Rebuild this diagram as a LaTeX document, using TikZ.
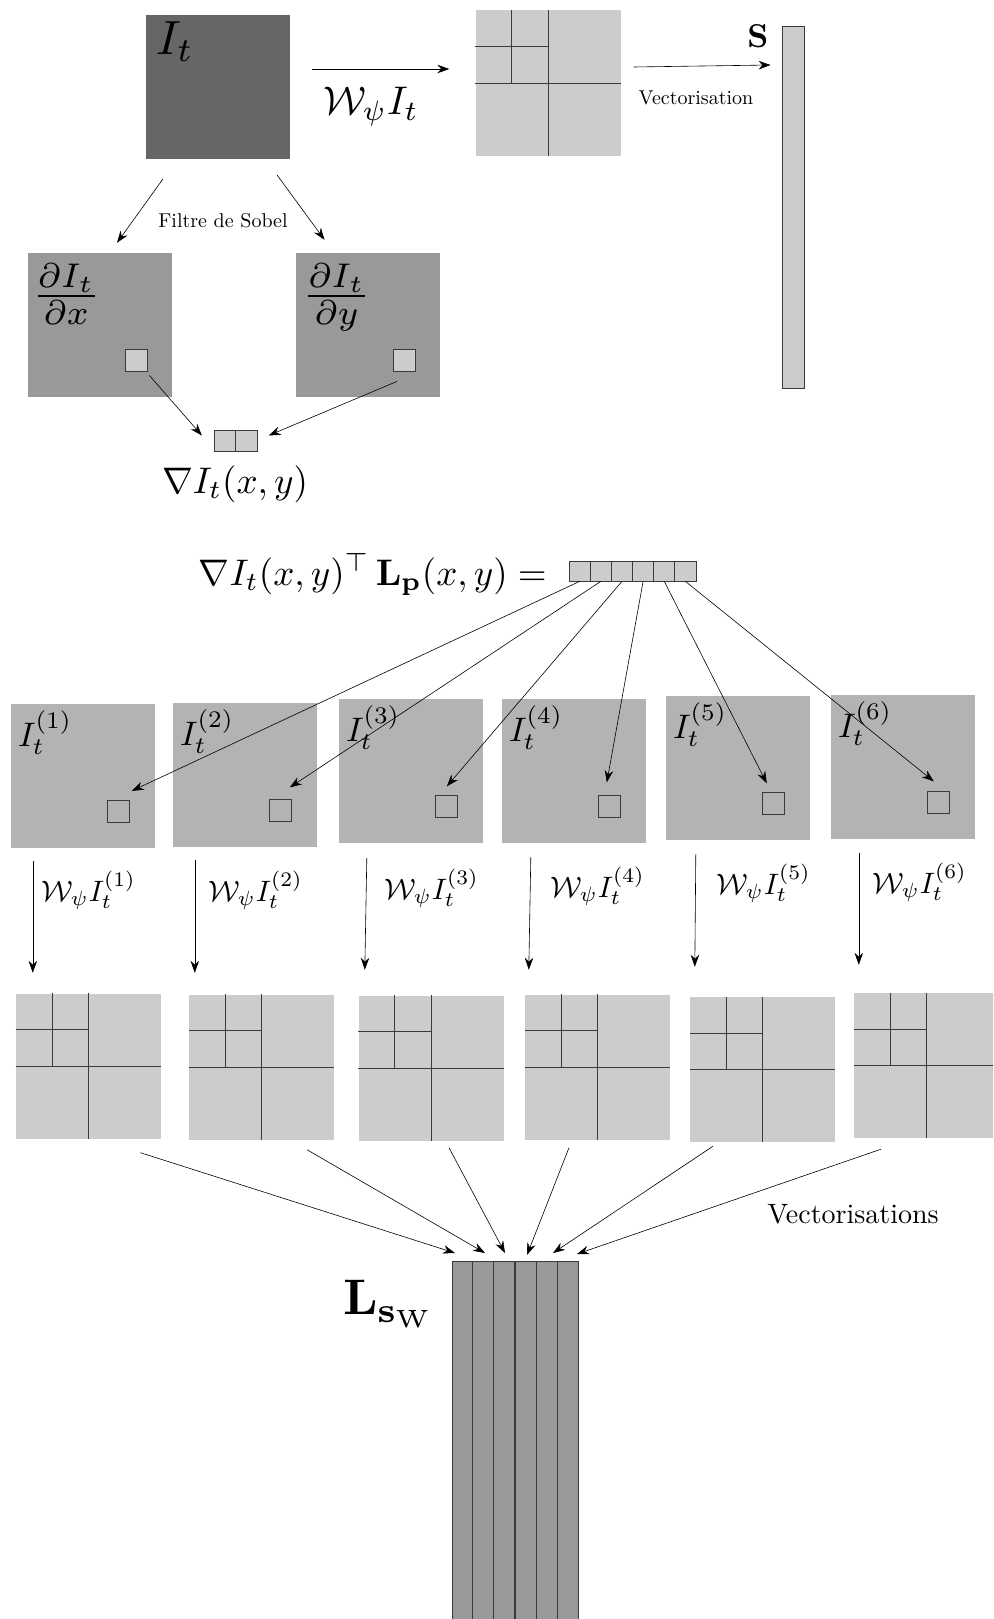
\RequirePackage{fix-cm}
\documentclass[tikz,border=0pt]{standalone}
\usepackage{amsmath}
\usetikzlibrary{calc,arrows.meta}
\definecolor{gA}{HTML}{666666}
\definecolor{gB}{HTML}{999999}
\definecolor{gC}{HTML}{CCCCCC}
\definecolor{gD}{HTML}{B3B3B3}
\definecolor{ln}{HTML}{3A3A3A}
\newcommand{\sz}[2]{\scalebox{#1}{#2}}
\newcommand{\wavebox}[3]{%
  \node[wbox] (#1) at (#2,#3) {};
  \draw[wline] (#1.west) -- (#1.east);
  \draw[wline] (#1.north) -- (#1.south);
  \draw[wline] ($(#1.north west)!.5!(#1.west)$) -- ($(#1.north)!.5!(#1.center)$);
  \draw[wline] ($(#1.north west)!.5!(#1.north)$) -- ($(#1.west)!.5!(#1.center)$);
}
\begin{document}
\begin{tikzpicture}[x=1pt,y=-1pt,
  img/.style={rectangle,inner sep=0pt,minimum size=144pt,draw=none},
  wbox/.style={rectangle,inner sep=0pt,minimum size=145pt,fill=gC,draw=none},
  wline/.style={draw=ln,line width=1pt},
  cell/.style={rectangle,inner sep=0pt,minimum width=21.2pt,minimum height=20pt,fill=gC,draw=ln,line width=0.8pt},
  sq/.style={rectangle,inner sep=0pt,minimum size=22pt,draw=ln,line width=0.8pt},
  arr/.style={-{Stealth[length=12pt,width=8.5pt]},line width=0.6pt},
  lbl/.style={inner sep=0pt}]
\clip (0,0) rectangle (993,1619);
% ---------- top row ----------
\node[img,fill=gA] (It) at (218,87) {};
\node[lbl,anchor=north west] (ItL) at ($(It.north west)+(10,7)$) {\sz{4.8}{$I_t$}};
\wavebox{TW}{548}{83}
\draw[arr] ($(It.east)+(22,-18)$) -- ($(TW.west)+(-26,-14)$);
\node[lbl] (WL) at (371,107) {\sz{4}{$\mathcal{W}_\psi I_t$}};
\node[rectangle,inner sep=0pt,minimum width=22pt,minimum height=362pt,fill=gC,draw=ln,line width=0.8pt] (Svec) at (793,207) {};
\draw[arr] ($(TW.east)+(13,-16)$) -- ($(Svec.west)+(-11,-142)$);
\node[lbl] (VL) at (696,98) {\sz{2}{Vectorisation}};
\node[lbl] (SL) at (758,36) {\sz{3.3}{$\mathbf{S}$}};
% ---------- Sobel ----------
\node[img,fill=gB] (Dx) at (100,325) {};
\node[img,fill=gB] (Dy) at (367.5,325) {};
\node[lbl] (SobL) at (223,221) {\sz{2}{Filtre de Sobel}};
\draw[arr] ($(It.south west)+(17,20)$) -- ($(Dx.north)+(17,-10)$);
\draw[arr] ($(It.south east)+(-13,16)$) -- ($(Dy.north)+(-43,-13)$);
\node[lbl,anchor=north west] (DxL) at ($(Dx.north west)+(4,11)$) {\sz{4.9}{$\frac{\partial I_t}{\partial x}$}};
\node[lbl,anchor=north west] (DyL) at ($(Dy.north west)+(7,11)$) {\sz{4.9}{$\frac{\partial I_t}{\partial y}$}};
\node[sq,fill=gC] (sx) at (136,360) {};
\node[sq,fill=gC] (sy) at (404,360) {};
\node[cell,minimum width=21.5pt,minimum height=21pt] (g1) at (225,440.5) {};
\node[cell,minimum width=21.5pt,minimum height=21pt] (g2) at (246.5,440.5) {};
\draw[arr] ($(sx.south east)+(2,4)$) -- ($(g1.west)+(-12,-5)$);
\draw[arr] ($(sy.south)+(-7,10)$) -- ($(g2.east)+(11,-5)$);
\node[lbl] (GL) at (235,484) {\sz{3.7}{$\nabla I_t(x,y)$}};
% ---------- equation ----------
\node[lbl,anchor=east] (EqL) at (547,575) {\sz{3.7}{$\nabla I_t(x,y)^{\top}\,\mathbf{L}_{\mathbf{p}}(x,y) =$}};
\foreach \k in {1,...,6} \node[cell] (v\k) at ({569+21.17*(\k-0.5)},571) {};
% ---------- six images ----------
\foreach \k/\x/\y in {1/83/775.5, 2/245/775, 3/411/771, 4/574/771, 5/738/768, 6/903/767} {
  \node[img,fill=gD] (B\k) at (\x,\y) {};
  \node[sq] (q\k) at ($(B\k.north west)+(108,108)$) {};
  \node[lbl,anchor=north west] (BL\k) at ($(B\k.north west)+(7,7)$) {\sz{3.4}{$I_t^{(\k)}$}};
}
\foreach \k/\dx/\dy in {1/13/-9, 2/9/-12, 3/0/-9, 4/-3/-13, 5/-7/-9, 6/-5/-10}
  \draw[arr] (v\k.south) -- ($(q\k.north)+(\dx,\dy)$);
% ---------- wavelet boxes ----------
\wavebox{W1}{88.5}{1066}
\wavebox{W2}{261.5}{1067}
\wavebox{W3}{431}{1068}
\wavebox{W4}{597.5}{1067}
\wavebox{W5}{762.5}{1069.5}
\wavebox{W6}{926.5}{1065.5}
\foreach \k/\sx/\sy/\ex/\ey/\lx/\ly in {1/22/13.5/17/-20.5/78/42.5, 2/22/13/6/-21.5/83/43, 3/28/15/6.5/-25.5/93/45, 4/29/14/4/-24.5/96/43, 5/30/14/5/-30/98/43, 6/28/14/5/-28/89/43} {
  \draw[arr] ($(B\k.south west)+(\sx,\sy)$) -- ($(W\k.north west)+(\ex,\ey)$);
  \node[lbl] (WL\k) at ($(B\k.south west)+(\lx,\ly)$) {\sz{2.95}{$\mathcal{W}_\psi I_t^{(\k)}$}};
}
% ---------- L_sW ----------
\node[rectangle,inner sep=0pt,minimum width=126pt,minimum height=420pt,anchor=north,fill=gB,draw=ln,line width=1pt] (Col) at (515,1261) {};
\foreach \i in {1,...,5}
  \draw[ln,line width=1.2pt] ($(Col.north west)!\i/6!(Col.north east)$) -- ($(Col.south west)!\i/6!(Col.south east)$);
\node[lbl,anchor=east] (LL) at ($(Col.north west)+(-17,43)$) {\sz{5}{$\mathbf{L}_{\mathbf{s}_{\mathrm{W}}}$}};
\foreach \k/\sx/\sy/\ex/\ey in {1/52/14/-60/-8, 2/45.5/10/-30/-8, 3/18/7/-10/-8, 4/-28.5/8/12/-6, 5/-49.5/4/38/-8, 6/-45.5/11/62/-7}
  \draw[arr] ($(W\k.south)+(\sx,\sy)$) -- ($(Col.north)+(\ex,\ey)$);
\node[lbl] (VsL) at (853,1214) {\sz{2.8}{Vectorisations}};
\end{tikzpicture}
\end{document}
